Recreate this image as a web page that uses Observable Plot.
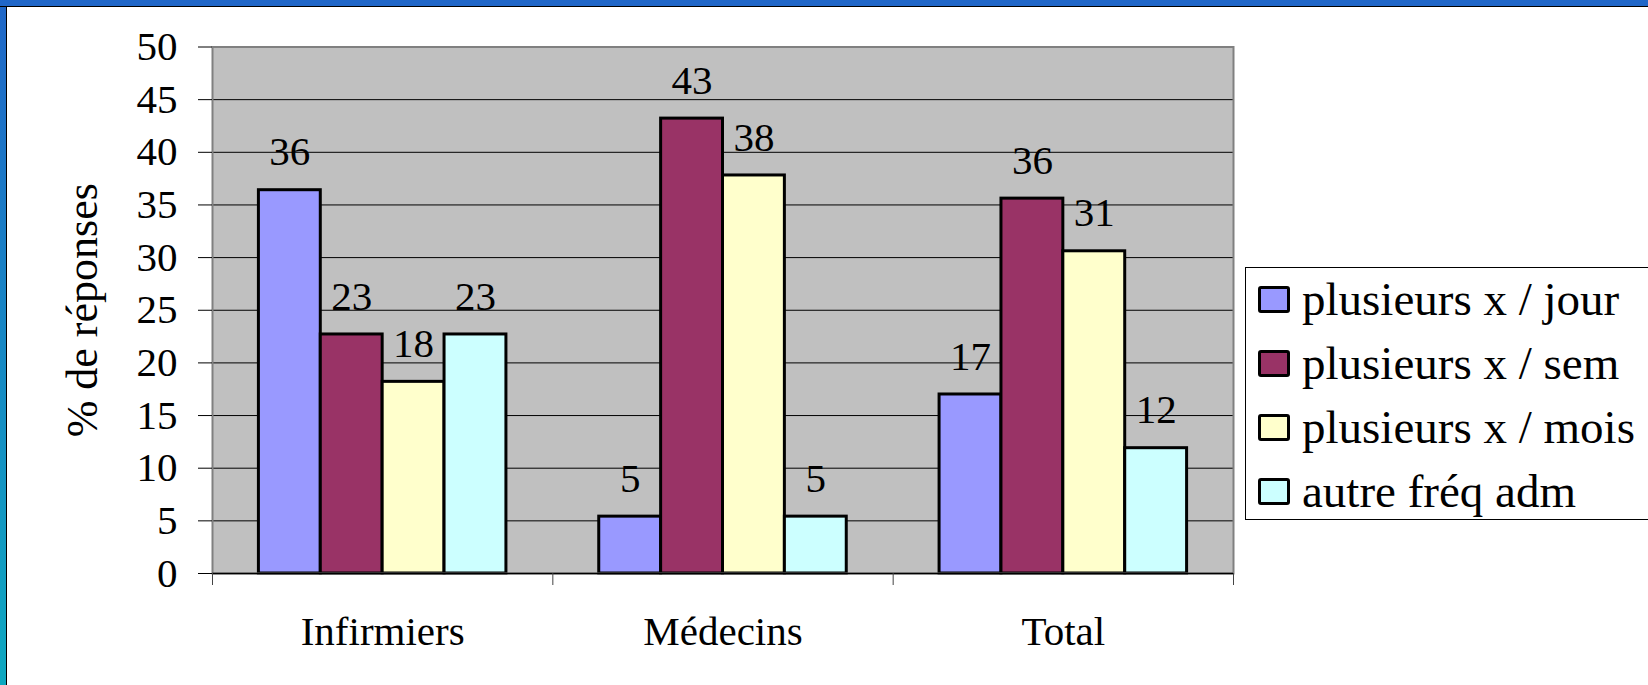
<!DOCTYPE html>
<html>
<head>
<meta charset="utf-8">
<script src="https://cdn.jsdelivr.net/npm/d3@7"></script>
<script src="https://cdn.jsdelivr.net/npm/@observablehq/plot@0.6"></script>
<style>
  html, body { margin: 0; padding: 0; }
  body { background: #fff; width: 1648px; height: 685px; overflow: hidden; position: relative;
         font-family: "Liberation Serif", "Times New Roman", serif; }
  #chart { position: absolute; left: 0; top: 0; }
  #topbar { position: absolute; left: 0; top: 0; width: 1648px; height: 6px; background: #2067c8;
            border-bottom: 1.5px solid #000; z-index: 3; }
  #leftbar { position: absolute; left: 0; top: 0; width: 6px; height: 685px;
             background: linear-gradient(#2067c8, #0ea8c0); border-right: 1.5px solid #000; z-index: 2; }
  #legend { position: absolute; left: 1245px; top: 267px; width: 430px; height: 253px;
            border: 1px solid #000; box-sizing: border-box; background: #fff; padding: 0 0 0 12px;
            font-family: "Liberation Serif", "Times New Roman", serif; }
  .item { display: flex; align-items: center; height: 64px; font-size: 47px; color: #000; white-space: nowrap;
          font-family: "Liberation Serif", "Times New Roman", serif; }
  .item:first-child { margin-top: -1px; }
  .sw { width: 32px; height: 27px; box-sizing: border-box; border: 3px solid #000; border-radius: 3px;
        margin-right: 12px; flex: none; }
</style>
</head>
<body>
<div id="chart"></div>
<div id="legend"></div>
<div id="topbar"></div>
<div id="leftbar"></div>
<script>
const categories = ["Infirmiers", "Médecins", "Total"];
const series = ["plusieurs x / jour", "plusieurs x / sem", "plusieurs x / mois", "autre fréq adm"];
const jour  = [36.4, 5.4, 17.0];
const sem   = [22.7, 43.2, 35.6];
const mois  = [18.2, 37.8, 30.6];
const autre = [22.7, 5.4, 11.9];
const colors = ["#9999FF", "#993366", "#FFFFCC", "#CCFFFF"];
const yTicks = [0, 5, 10, 15, 20, 25, 30, 35, 40, 45, 50];
const yLabel = "% de réponses";

const font = '"Liberation Serif", "Times New Roman", serif';
const seriesValues = [jour, sem, mois, autre];
const rows = [];
categories.forEach((c, i) => series.forEach((s, j) => rows.push({cat: c, i, s, j, value: seriesValues[j][i]})));

const n = categories.length;
const k = series.length;
const gap = 1.5;
const x1 = d => d.i + (gap / 2 + d.j) / (k + gap);
const x2 = d => d.i + (gap / 2 + d.j + 1) / (k + gap);
const xc = d => d.i + (gap / 2 + d.j + 0.5) / (k + gap);

const chart = Plot.plot({
  width: 1648,
  height: 685,
  marginLeft: 212,
  marginRight: 415,
  marginTop: 46.5,
  marginBottom: 112,
  style: {fontFamily: font, fontSize: "41px", color: "#000", background: "transparent"},
  x: {domain: [0, n], axis: null, label: null},
  y: {domain: [0, 50], axis: null, label: null},
  color: {domain: series, range: colors},
  marks: [
    Plot.frame({fill: "#c0c0c0"}),
    Plot.gridY(yTicks, {stroke: "#000", strokeOpacity: 1, strokeWidth: 1}),
    Plot.rect(rows, {x1, x2, y1: 0, y2: "value", fill: "s", stroke: "#000", strokeWidth: 3}),
    Plot.text(rows, {x: xc, y: "value", text: d => String(Math.round(d.value)), dy: -38,
                     fontSize: 41, fontFamily: font, fill: "#000"}),
    Plot.frame({stroke: "#808080", strokeWidth: 2}),
    Plot.ruleY([0], {stroke: "#000", strokeWidth: 1.5}),
    Plot.axisY({ticks: yTicks, tickSize: 14, tickPadding: 21, fontSize: 41, fontFamily: font,
                label: null, tickFormat: d => String(d)}),
    Plot.axisX({ticks: d3.range(n + 1), tickSize: 12, tickFormat: () => "", label: null, stroke: "#444"}),
    Plot.axisX({ticks: d3.range(n).map(i => i + 0.5), tickSize: 0, tickPadding: 42, fontSize: 41, fontFamily: font,
                tickFormat: d => categories[Math.floor(d)], label: null}),
    Plot.text([yLabel], {frameAnchor: "left", textAnchor: "middle", rotate: -90, dx: -130,
                         fontSize: 44, fontFamily: font, fill: "#000"})
  ]
});
document.getElementById("chart").appendChild(chart);

const legend = document.getElementById("legend");
series.forEach((s, j) => {
  const item = document.createElement("div");
  item.className = "item";
  const sw = document.createElement("div");
  sw.className = "sw";
  sw.style.background = colors[j];
  const label = document.createElement("span");
  label.textContent = s;
  label.style.fontFamily = font;
  item.appendChild(sw);
  item.appendChild(label);
  legend.appendChild(item);
});
</script>
</body>
</html>
